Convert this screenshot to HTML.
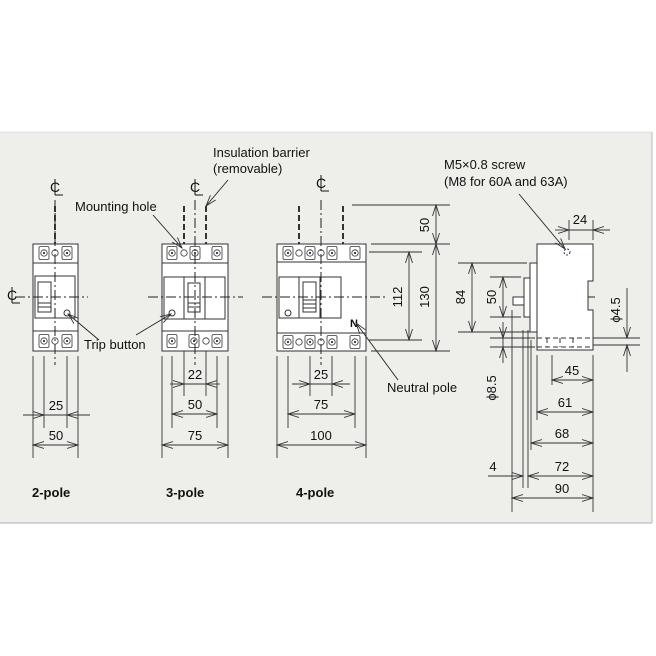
<!DOCTYPE html>
<html><head><meta charset="utf-8"><style>
html,body{margin:0;padding:0;background:#fff;width:656px;height:656px;overflow:hidden}
svg{display:block}
text{font-family:"Liberation Sans",sans-serif;fill:#111}
</style></head><body>
<svg width="656" height="656" viewBox="0 0 656 656" xmlns="http://www.w3.org/2000/svg">
<defs>
<marker id="a" markerWidth="12" markerHeight="8" refX="11" refY="4" orient="auto-start-reverse" markerUnits="userSpaceOnUse">
<path d="M0,0.5 L11,4 L0,7.5" fill="none" stroke="#333" stroke-width="0.9"/>
</marker>
<g id="t"><rect x="-5" y="-6.5" width="10" height="13" rx="1.5" fill="#fff" stroke="#333" stroke-width="0.8"/><circle r="3.2" fill="none" stroke="#333" stroke-width="0.8"/><circle r="1.1" fill="#333"/></g>
<g id="o"><circle r="3.2" fill="#fff" stroke="#333" stroke-width="0.8"/></g>
<g id="cl"><text x="-5" y="0" font-size="14">C</text><line x1="0" y1="-13" x2="0" y2="3" stroke="#111" stroke-width="1"/><line x1="0" y1="3" x2="8" y2="3" stroke="#111" stroke-width="1"/></g>
</defs>
<rect x="0" y="132" width="652" height="391" fill="#eeeeea"/>
<line x1="652" y1="132" x2="652" y2="523" stroke="#aaa" stroke-width="0.8"/>
<line x1="0" y1="523" x2="652" y2="523" stroke="#999" stroke-width="0.8"/>
<line x1="0" y1="132" x2="652" y2="132" stroke="#ccc" stroke-width="0.6"/>

<g stroke="#333" stroke-width="1" fill="none">
<rect x="33" y="244" width="45" height="107" fill="#fff"/>
<line x1="33" y1="263" x2="78" y2="263"/><line x1="33" y1="331" x2="78" y2="331"/>
<rect x="35" y="276" width="40" height="42"/>
<rect x="38" y="282" width="13" height="30"/>
<line x1="38" y1="303" x2="51" y2="303"/><line x1="38" y1="307" x2="51" y2="307"/>
<circle cx="67" cy="313" r="3"/>
</g>
<use href="#t" x="44" y="253"/><use href="#o" x="55" y="253"/><use href="#t" x="67" y="253"/>
<use href="#t" x="44" y="341"/><use href="#o" x="55" y="341"/><use href="#t" x="67" y="341"/>

<g stroke="#333" stroke-width="1" fill="none">
<rect x="162" y="244" width="66" height="107" fill="#fff"/>
<line x1="162" y1="263" x2="228" y2="263"/><line x1="162" y1="331" x2="228" y2="331"/>
<rect x="164" y="277" width="61" height="42"/>
<line x1="184" y1="277" x2="184" y2="319"/><line x1="205" y1="277" x2="205" y2="319"/>
<rect x="188" y="283" width="12" height="29"/>
<line x1="188" y1="303" x2="200" y2="303"/><line x1="188" y1="307" x2="200" y2="307"/>
<circle cx="172" cy="313" r="3"/>
</g>
<use href="#t" x="172" y="253"/><use href="#o" x="184" y="253"/><use href="#t" x="195" y="253"/><use href="#t" x="217" y="253"/>
<use href="#t" x="172" y="341"/><use href="#t" x="194" y="341"/><use href="#o" x="206" y="341"/><use href="#t" x="217" y="341"/>

<g stroke="#333" stroke-width="1" fill="none">
<rect x="277" y="244" width="89" height="107" fill="#fff"/>
<line x1="277" y1="262" x2="366" y2="262"/><line x1="277" y1="333" x2="366" y2="333"/>
<rect x="279" y="277" width="62" height="41"/>
<line x1="299" y1="277" x2="299" y2="318"/><line x1="320" y1="277" x2="320" y2="318"/>
<rect x="303" y="282" width="13" height="30"/>
<line x1="303" y1="300" x2="316" y2="300"/><line x1="303" y1="304" x2="316" y2="304"/><line x1="303" y1="308" x2="316" y2="308"/>
<circle cx="288" cy="313" r="3"/>
</g>
<use href="#t" x="288" y="253"/><use href="#o" x="299" y="253"/><use href="#t" x="310" y="253"/><use href="#o" x="321" y="253"/><use href="#t" x="332" y="253"/><use href="#t" x="355" y="253"/>
<use href="#t" x="288" y="342"/><use href="#o" x="299" y="342"/><use href="#t" x="310" y="342"/><use href="#o" x="321" y="342"/><use href="#t" x="332" y="342"/><use href="#t" x="355" y="342"/>
<text x="350" y="327" font-size="11" font-weight="bold">N</text>

<g stroke="#222" stroke-width="1" fill="none" stroke-dasharray="10,3,2,3">
<line x1="55" y1="200" x2="55" y2="365"/>
<line x1="15" y1="297" x2="88" y2="297"/>
<line x1="195" y1="200" x2="195" y2="365"/>
<line x1="148" y1="297" x2="243" y2="297"/>
<line x1="321" y1="200" x2="321" y2="365"/>
<line x1="262" y1="297" x2="385" y2="297"/>
<line x1="513" y1="297" x2="597" y2="297"/>
</g>
<g stroke="#333" stroke-width="2" stroke-dasharray="6,3">
<line x1="55" y1="206" x2="55" y2="244"/>
<line x1="184" y1="206" x2="184" y2="244"/><line x1="206" y1="206" x2="206" y2="244"/>
<line x1="299" y1="206" x2="299" y2="244"/><line x1="343" y1="206" x2="343" y2="244"/>
</g>
<use href="#cl" x="55" y="192"/><use href="#cl" x="195" y="192"/><use href="#cl" x="321" y="188"/><use href="#cl" x="12" y="300"/>

<g stroke="#333" stroke-width="0.9">
<line x1="33" y1="356" x2="33" y2="458"/><line x1="78" y1="356" x2="78" y2="458"/>
<line x1="44" y1="356" x2="44" y2="428"/><line x1="67" y1="356" x2="67" y2="428"/>
<line x1="162" y1="356" x2="162" y2="458"/><line x1="228" y1="356" x2="228" y2="458"/>
<line x1="172" y1="356" x2="172" y2="428"/><line x1="217" y1="356" x2="217" y2="428"/>
<line x1="184" y1="351" x2="184" y2="396"/><line x1="206" y1="351" x2="206" y2="396"/>
<line x1="277" y1="356" x2="277" y2="458"/><line x1="366" y1="356" x2="366" y2="458"/>
<line x1="288" y1="356" x2="288" y2="428"/><line x1="355" y1="356" x2="355" y2="428"/>
<line x1="310" y1="356" x2="310" y2="396"/><line x1="332" y1="356" x2="332" y2="396"/>
</g>
<g stroke="#333" stroke-width="0.9" fill="none">
<line x1="23" y1="415" x2="44" y2="415" marker-end="url(#a)"/><line x1="90" y1="415" x2="67" y2="415" marker-end="url(#a)"/><line x1="44" y1="415" x2="67" y2="415"/>
<line x1="33" y1="445" x2="78" y2="445" marker-start="url(#a)" marker-end="url(#a)"/>
<line x1="170" y1="384" x2="184" y2="384" marker-end="url(#a)"/><line x1="220" y1="384" x2="206" y2="384" marker-end="url(#a)"/><line x1="184" y1="384" x2="206" y2="384"/>
<line x1="172" y1="414" x2="217" y2="414" marker-start="url(#a)" marker-end="url(#a)"/>
<line x1="162" y1="445" x2="228" y2="445" marker-start="url(#a)" marker-end="url(#a)"/>
<line x1="292" y1="384" x2="310" y2="384" marker-end="url(#a)"/><line x1="350" y1="384" x2="332" y2="384" marker-end="url(#a)"/><line x1="310" y1="384" x2="332" y2="384"/>
<line x1="288" y1="414" x2="355" y2="414" marker-start="url(#a)" marker-end="url(#a)"/>
<line x1="277" y1="445" x2="366" y2="445" marker-start="url(#a)" marker-end="url(#a)"/>
</g>
<g font-size="13" text-anchor="middle">
<text x="56" y="410">25</text><text x="56" y="440">50</text>
<text x="195" y="379">22</text><text x="195" y="409">50</text><text x="195" y="440">75</text>
<text x="321" y="379">25</text><text x="321" y="409">75</text><text x="321" y="440">100</text>
</g>

<g stroke="#333" stroke-width="0.9" fill="none">
<line x1="352" y1="205" x2="450" y2="205"/><line x1="371" y1="244" x2="450" y2="244"/>
<line x1="369" y1="252" x2="422" y2="252"/><line x1="369" y1="340" x2="422" y2="340"/>
<line x1="371" y1="351" x2="450" y2="351"/>
<line x1="436" y1="205" x2="436" y2="244" marker-start="url(#a)" marker-end="url(#a)"/>
<line x1="436" y1="244" x2="436" y2="351" marker-start="url(#a)" marker-end="url(#a)"/>
<line x1="409" y1="252" x2="409" y2="340" marker-start="url(#a)" marker-end="url(#a)"/>
</g>
<g font-size="13" text-anchor="middle">
<text transform="translate(429,225) rotate(-90)">50</text>
<text transform="translate(429,297) rotate(-90)">130</text>
<text transform="translate(402,297) rotate(-90)">112</text>
</g>

<g stroke="#333" stroke-width="1" fill="none">
<path d="M537,244 H593 V281 H588 V310 H593 V350 H537 Z" fill="#fff"/>
<rect x="530" y="263" width="7" height="69" fill="#fff"/>
<rect x="524" y="278" width="6" height="39" fill="#fff"/>
<rect x="513" y="297" width="11" height="8" fill="#fff"/>
<circle cx="567" cy="252" r="3" stroke-dasharray="2,1.5"/>
<path d="M537,338 H593 M537,347 H593 M547,338 V347 M560,338 V347 M573,338 V347" stroke-dasharray="5,3"/>
</g>
<g stroke="#333" stroke-width="0.9" fill="none">
<line x1="523" y1="330" x2="523" y2="488"/><line x1="528" y1="330" x2="528" y2="488"/>
<line x1="512" y1="310" x2="512" y2="512"/>
<line x1="593" y1="355" x2="593" y2="512"/>
<line x1="552" y1="355" x2="552" y2="385"/><line x1="537" y1="355" x2="537" y2="420"/><line x1="531" y1="340" x2="531" y2="450"/>
<line x1="569" y1="220" x2="569" y2="240"/><line x1="593" y1="220" x2="593" y2="240"/>
<line x1="555" y1="230" x2="569" y2="230" marker-end="url(#a)"/><line x1="610" y1="230" x2="593" y2="230" marker-end="url(#a)"/><line x1="569" y1="230" x2="593" y2="230"/>
<line x1="458" y1="263" x2="527" y2="263"/><line x1="458" y1="332" x2="530" y2="332"/>
<line x1="472" y1="263" x2="472" y2="332" marker-start="url(#a)" marker-end="url(#a)"/>
<line x1="490" y1="277" x2="521" y2="277"/><line x1="490" y1="317" x2="521" y2="317"/>
<line x1="503" y1="277" x2="503" y2="317" marker-start="url(#a)" marker-end="url(#a)"/>
<line x1="490" y1="338" x2="535" y2="338"/><line x1="490" y1="347" x2="535" y2="347"/>
<line x1="503" y1="322" x2="503" y2="338" marker-end="url(#a)"/><line x1="503" y1="363" x2="503" y2="347" marker-end="url(#a)"/><line x1="503" y1="338" x2="503" y2="347"/>
<line x1="593" y1="338" x2="640" y2="338"/><line x1="593" y1="345" x2="640" y2="345"/>
<line x1="627" y1="288" x2="627" y2="338" marker-end="url(#a)"/><line x1="627" y1="372" x2="627" y2="345" marker-end="url(#a)"/>
<line x1="552" y1="380" x2="593" y2="380" marker-start="url(#a)" marker-end="url(#a)"/>
<line x1="537" y1="412" x2="593" y2="412" marker-start="url(#a)" marker-end="url(#a)"/>
<line x1="531" y1="443" x2="593" y2="443" marker-start="url(#a)" marker-end="url(#a)"/>
<line x1="528" y1="476" x2="593" y2="476" marker-start="url(#a)" marker-end="url(#a)"/>
<line x1="488" y1="476" x2="523" y2="476" marker-end="url(#a)"/>
<line x1="512" y1="498" x2="593" y2="498" marker-start="url(#a)" marker-end="url(#a)"/>
</g>
<g font-size="13" text-anchor="middle">
<text x="580" y="224">24</text>
<text transform="translate(465,297) rotate(-90)">84</text>
<text transform="translate(496,297) rotate(-90)">50</text>
<text transform="translate(496,388) rotate(-90)">ϕ8.5</text>
<text transform="translate(620,310) rotate(-90)">ϕ4.5</text>
<text x="572" y="375">45</text><text x="565" y="407">61</text><text x="562" y="438">68</text>
<text x="562" y="471">72</text><text x="493" y="471">4</text><text x="562" y="493">90</text>
</g>

<g stroke="#222" stroke-width="0.9" fill="none">
<line x1="153" y1="215" x2="182" y2="248" marker-end="url(#a)"/>
<line x1="228" y1="180" x2="206" y2="206" marker-end="url(#a)"/>
<line x1="99" y1="340" x2="68" y2="314" marker-end="url(#a)"/>
<line x1="136" y1="335" x2="171" y2="314" marker-end="url(#a)"/>
<line x1="398" y1="380" x2="356" y2="323" marker-end="url(#a)"/>
<line x1="519" y1="194" x2="565" y2="249" marker-end="url(#a)"/>
</g>
<g font-size="13">
<text x="213" y="157">Insulation barrier</text><text x="213" y="173">(removable)</text>
<text x="75" y="211">Mounting hole</text>
<text x="84" y="349">Trip button</text>
<text x="387" y="392">Neutral pole</text>
<text x="444" y="169">M5×0.8 screw</text><text x="444" y="186">(M8 for 60A and 63A)</text>
</g>
<g font-size="13" font-weight="bold">
<text x="32" y="497">2-pole</text><text x="166" y="497">3-pole</text><text x="296" y="497">4-pole</text>
</g>
</svg>
</body></html>
